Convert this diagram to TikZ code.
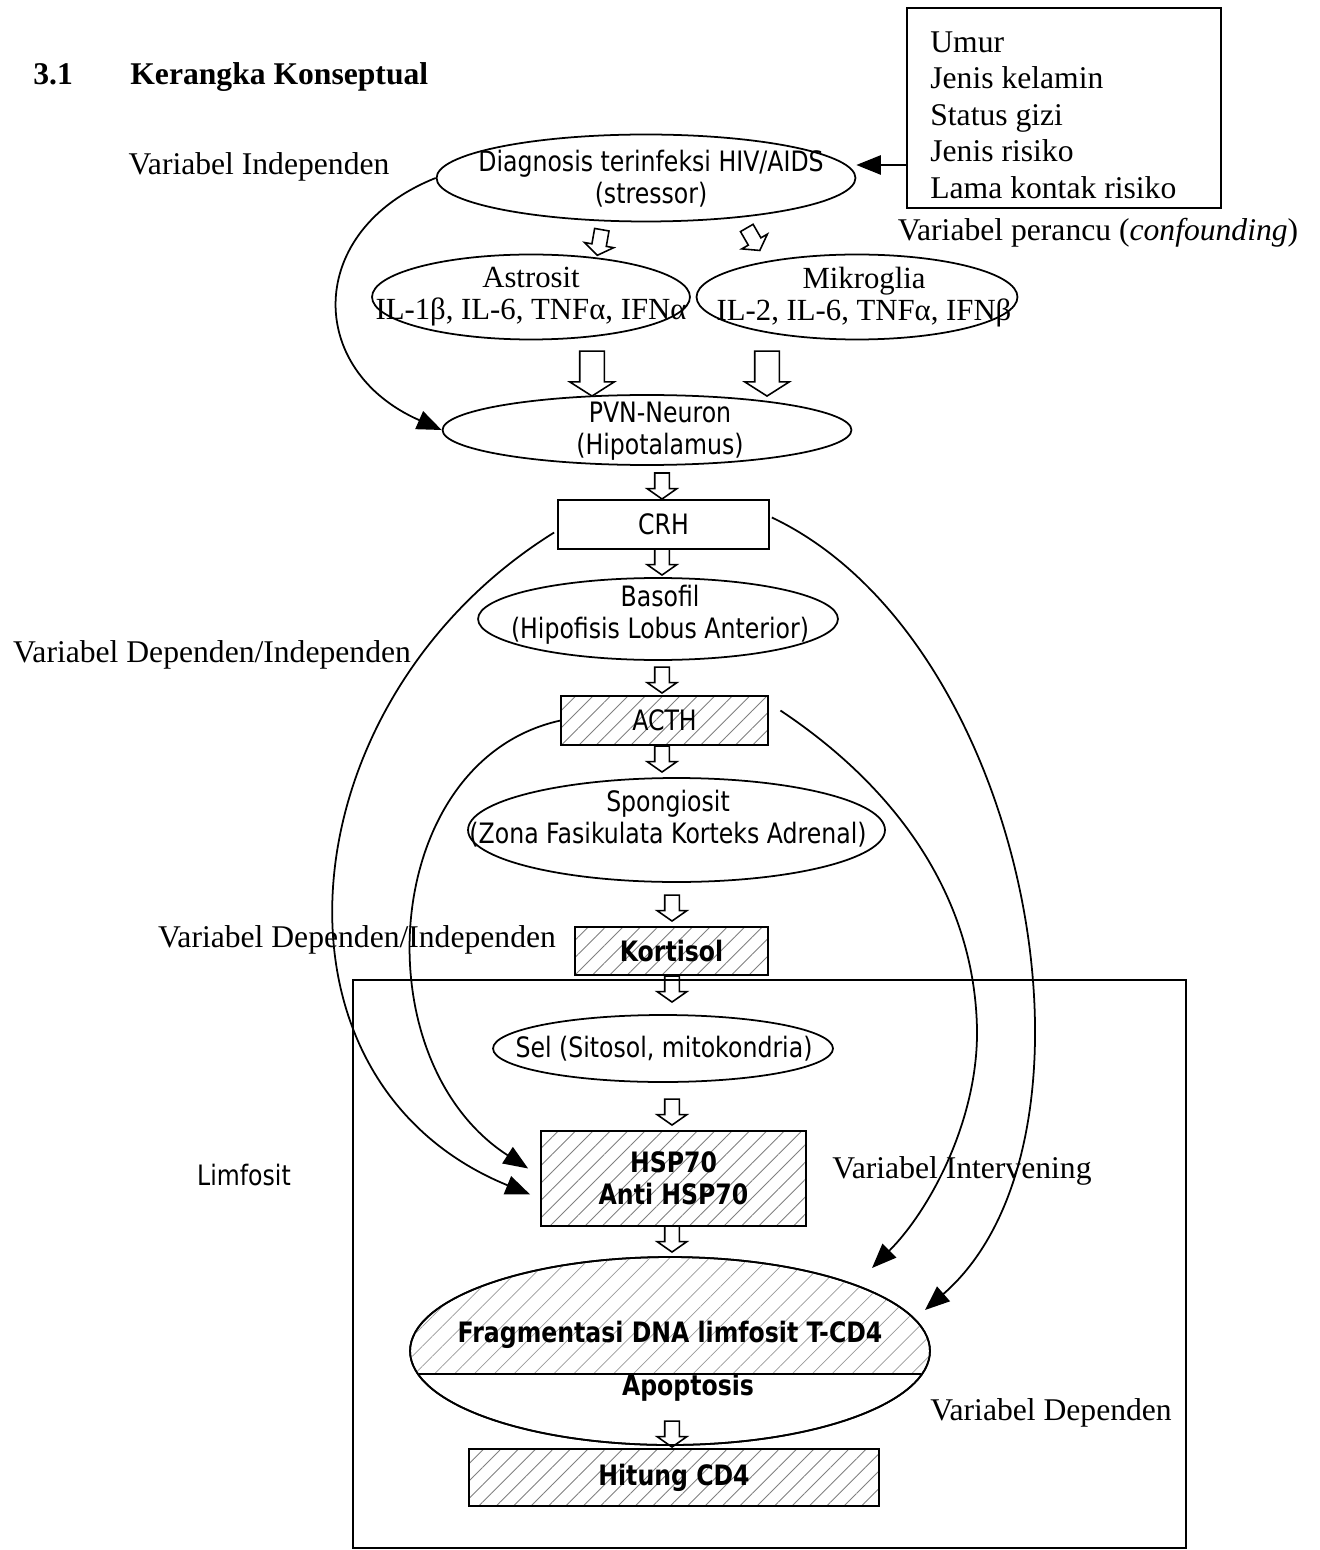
\documentclass[tikz,border=0pt]{standalone}
\usepackage{fontspec}
\setmainfont{Liberation Serif}
\newfontfamily\tahoma[FakeStretch=0.84]{DejaVu Sans}
\usetikzlibrary{shapes.geometric,shapes.arrows,arrows.meta,patterns.meta}
\begin{document}
\begin{tikzpicture}[x=0.02cm,y=-0.02cm,
  serif/.style={font=\fontsize{18}{21}\selectfont, inner sep=0},
  serifb/.style={font=\bfseries\fontsize{18}{21}\selectfont, inner sep=0},
  serifel/.style={font=\fontsize{17.5}{18.2}\selectfont, inner sep=0, align=center},
  sans/.style={font=\tahoma\fontsize{16}{18.2}\selectfont, align=center, inner sep=0},
  sansb/.style={font=\tahoma\bfseries\fontsize{16}{18.2}\selectfont, align=center, inner sep=0},
  ell/.style={ellipse, draw, line width=1pt, inner sep=0},
  rbox/.style={rectangle, draw, line width=1pt, inner sep=0},
  hatch/.style={pattern={Lines[angle=45,distance=7pt,line width=0.5pt]}, pattern color=black!50},
  lhatch/.style={pattern={Lines[angle=45,distance=8pt,line width=0.4pt]}, pattern color=black!40},
  curv/.style={line width=1pt, -{Triangle[length=14pt,width=11pt]}},
  bigarr/.style={single arrow, draw, line width=0.9pt, inner sep=0, inner ysep=0.23cm,
    minimum height=0.9cm, single arrow head extend=0.2cm, single arrow tip angle=115, rotate=-90},
  smarr/.style={single arrow, draw, line width=0.9pt, inner sep=0, inner ysep=0.13cm,
    minimum height=0.52cm, single arrow head extend=0.15cm, single arrow tip angle=110, rotate=-90},
]
\useasboundingbox (0,0) rectangle (1319,1550);

% title and labels
\node[serifb, anchor=base west] (num) at (33,85) {3.1};
\node[serifb, anchor=base west] (title) at (130,85) {Kerangka Konseptual};
\node[serif, anchor=base] (lblind) at (259,175) {Variabel Independen};
\node[serif, anchor=base] (lblconf) at (1098,241) {Variabel perancu (\textit{confounding})};
\node[serif, anchor=base] (lbldi1) at (212,662) {Variabel Dependen/Independen};
\node[serif, anchor=base] (lbldi2) at (357,947) {Variabel Dependen/Independen};
\node[serif, anchor=base] (lblint) at (962,1178) {Variabel Intervening};
\node[serif, anchor=base] (lbldep) at (1051,1420) {Variabel Dependen};
\node[sans, anchor=base] (lbllim) at (244,1185) {Limfosit};

% confounding box
\node[rbox, minimum width=6.28cm, minimum height=4cm] (conf) at (1064,108) {};
\node[serif, align=left, anchor=north west, font=\fontsize{18}{20.8}\selectfont] (conft) at (930,31)
  {Umur\\Jenis kelamin\\Status gizi\\Jenis risiko\\Lama kontak risiko};

% main chain
\node[ell, minimum width=8.38cm, minimum height=1.74cm] (diag) at (646,178) {};
\node[sans] (diagt) at (651,179) {Diagnosis terinfeksi HIV/AIDS\\(stressor)};
\draw[curv] (conf.west |- 0,165) -- (diag.east |- 0,165);

\node[ell, minimum width=6.36cm, minimum height=1.7cm] (astro) at (531,297) {};
\node[serifel] (astrot) at (531,297) {Astrosit\\IL-1β, IL-6, TNFα, IFNα};
\node[ell, minimum width=6.42cm, minimum height=1.7cm] (mikro) at (857,297) {};
\node[serifel] (mikrot) at (864,297) {Mikroglia\\IL-2, IL-6, TNFα, IFNβ};

\node[ell, minimum width=8.18cm, minimum height=1.4cm] (pvn) at (647,430) {};
\node[sans] (pvnt) at (660,431) {PVN-Neuron\\(Hipotalamus)};

\node[rbox, minimum width=4.22cm, minimum height=0.98cm, font=\tahoma\fontsize{16}{18.2}\selectfont] (crh) at (663.5,524.5) {CRH};

\node[ell, minimum width=7.2cm, minimum height=1.64cm] (baso) at (658,619) {};
\node[sans] (basot) at (660,615) {Basofil\\(Hipofisis Lobus Anterior)};

\node[rbox, hatch, minimum width=4.14cm, minimum height=0.98cm, font=\tahoma\fontsize{16}{18.2}\selectfont] (acth) at (664.5,720.5) {ACTH};

\node[ell, minimum width=8.34cm, minimum height=2.08cm] (spong) at (676.5,830) {};
\node[sans] (spongt) at (668,819) {Spongiosit\\(Zona Fasikulata Korteks Adrenal)};

\node[rbox, hatch, minimum width=3.86cm, minimum height=0.96cm, font=\tahoma\bfseries\fontsize{16}{18.2}\selectfont] (kort) at (671.5,951) {Kortisol};

\node[rbox, minimum width=16.66cm, minimum height=11.36cm] (lim) at (769.5,1264) {};

\node[ell, minimum width=6.8cm, minimum height=1.34cm] (sel) at (663,1048.5) {};
\node[sans] (selt) at (664,1049) {Sel (Sitosol, mitokondria)};

\node[rbox, hatch, minimum width=5.3cm, minimum height=1.9cm, align=center, font=\tahoma\bfseries\fontsize{16}{18.2}\selectfont] (hsp) at (673.5,1178.5) {HSP70\\Anti HSP70};

\node[ell, minimum width=10.4cm, minimum height=3.76cm] (frag) at (670,1351) {};
\begin{scope}
  \clip (frag.center) ellipse [x radius=5.2cm, y radius=1.88cm];
  \fill[lhatch] ([shift={(-262,-96)}]frag.center) rectangle ([shift={(262,23)}]frag.center);
\end{scope}
\draw[line width=1pt] (frag.center) ellipse [x radius=5.2cm, y radius=1.88cm];
\draw[line width=0.8pt] ([shift={(-251,23)}]frag.center) -- ([shift={(251,23)}]frag.center);
\node[sansb] (fragt) at (670,1335) {Fragmentasi DNA limfosit T-CD4};
\node[sansb] (apopt) at (688,1388) {Apoptosis};

\node[rbox, hatch, minimum width=8.2cm, minimum height=1.14cm, font=\tahoma\bfseries\fontsize{16}{18.2}\selectfont] (cd4) at (674,1477.5) {Hitung CD4};

% block arrows
\node[smarr, rotate=-10] (a1) at (600,240) {};
\node[smarr, rotate=30] (a2) at (752,237) {};
\node[bigarr, anchor=tip] (a3) at (592,397) {};
\node[bigarr, anchor=tip] (a4) at (767,397) {};
\node[smarr, anchor=tip] (a5) at (662,500) {};
\node[smarr, anchor=tip] (a6) at (662,576) {};
\node[smarr, anchor=tip] (a7) at (662,694) {};
\node[smarr, anchor=tip] (a8) at (662,773) {};
\node[smarr, anchor=tip] (a9) at (672,922) {};
\node[smarr, anchor=tip] (a10) at (672,1003) {};
\node[smarr, anchor=tip] (a11) at (672,1126) {};
\node[smarr, anchor=tip] (a12) at (672,1253) {};
\node[smarr, anchor=tip] (a13) at (672,1448) {};

% curved connectors
\draw[curv] (diag.west) .. controls (305,230) and (305,370) .. (pvn.west);
\draw[curv] ([shift={(-3,8)}]crh.west) .. controls (285,700) and (250,1080) .. ([shift={(-10,16)}]hsp.west);
\draw[curv] (acth.west) .. controls (380,760) and (360,1060) .. ([shift={(-12,-10)}]hsp.west);
\draw[curv] ([shift={(12,-10)}]acth.east) .. controls (900,790) and (975,900) .. (977,1030)
  .. controls (978,1120) and (930,1210) .. ([shift={(202,-83)}]frag.center);
\draw[curv] ([shift={(2,-7)}]crh.east) .. controls (1030,640) and (1120,1140) .. ([shift={(255,-41)}]frag.center);
\end{tikzpicture}
\end{document}
